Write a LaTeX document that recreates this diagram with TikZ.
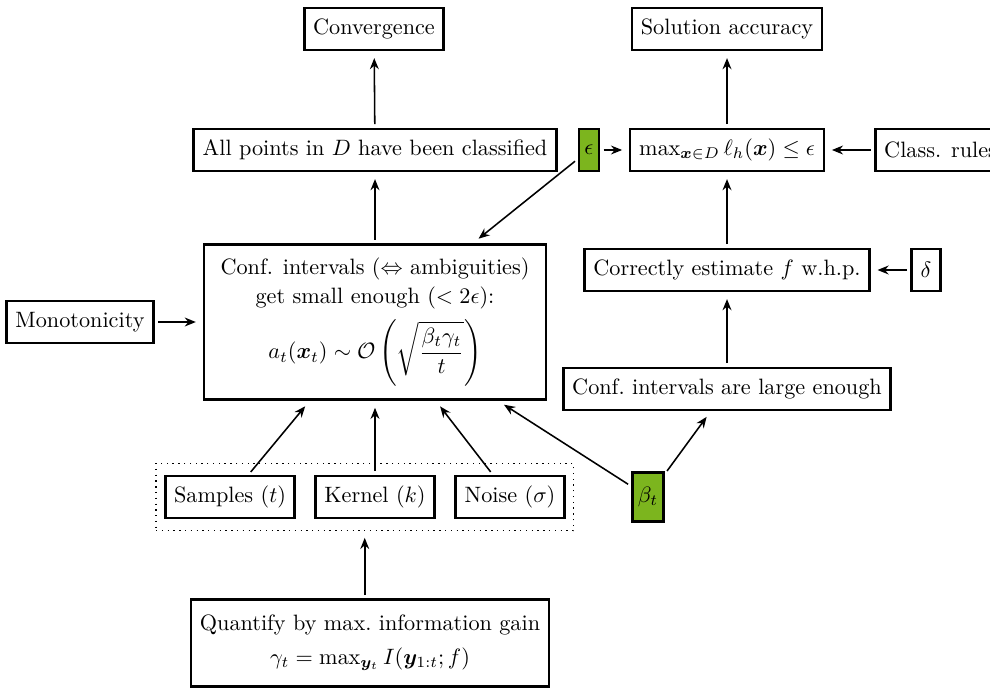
\documentclass[tikz,border=0pt]{standalone}
\usepackage{amsmath}
\usepackage{amssymb}
\usepackage{bm}
\usetikzlibrary{arrows.meta,positioning,fit}
\definecolor{paramGreen}{RGB}{124, 181, 30}

\begin{document}
\begin{tikzpicture}[
        x=0.45pt, y=-0.45pt,
        block/.style={rectangle, draw, line width=1.2pt, minimum height=19pt, inner xsep=4pt, align=center},
        param/.style={block, fill=paramGreen, inner xsep=2.5pt},
        arrow/.style={-{Stealth[length=5pt, width=4pt]}, line width=0.7pt, shorten >=3pt, shorten <=1.5pt}
    ]
        \useasboundingbox (0,0) rectangle (990,688);

        % Goals
        \node[block] (conv) at (374,29) {Convergence};
        \node[block] (accuracy) at (727,29) {Solution accuracy};

        % Conditions
        \node[block] (classified) at (375,150) {All points in $D$ have been classified};
        \node[param] (eps) at (589,150) {$\epsilon$};
        \node[block] (maxloss) at (727,150) {$\max_{\bm{x}\in D}\ell_h(\bm{x})\le\epsilon$};
        \node[block, anchor=west] (rules) at (874,150) {Class. rules};
        \node[block] (estimate) at (727,270) {Correctly estimate $f$ w.h.p.};
        \node[block] (delta) at (926,270) {$\delta$};

        % Confidence intervals
        \node[block, inner xsep=7.5pt, inner ysep=6pt] (conf) at (375,322) {Conf. intervals ($\Leftrightarrow$ ambiguities)\\[1pt] get small enough ($<2\epsilon$):\\[4pt] $\displaystyle a_t(\bm{x}_t)\sim\mathcal{O}\left(\sqrt{\frac{\beta_t\gamma_t}{t}}\right)$};
        \node[block] (monotone) at (80,322) {Monotonicity};
        \node[block] (large) at (727,389) {Conf.\ intervals are large enough};

        % Hyperparameters
        \node[block] (samples) at (230,497) {Samples ($t$)};
        \node[block] (kernel) at (375,497) {Kernel ($k$)};
        \node[block] (noise) at (510,497) {Noise ($\sigma$)};
        \node[param, minimum height=22pt] (beta) at (648,497) {$\beta_t$};
        \node[draw, dotted, line width=0.6pt, fit=(samples)(noise), inner xsep=3.5pt, inner ysep=5pt] (hyper) {};

        % Information gain
        \node[block, inner ysep=7pt] (infogain) at (370,643) {Quantify by max.\ information gain\\[3pt] $\gamma_t=\max_{\bm{y}_t} I(\bm{y}_{1:t};f)$};

        % Arrows
        \draw[arrow] (classified) -- (conv);
        \draw[arrow] (maxloss) -- (accuracy);
        \draw[arrow] (eps) -- (maxloss);
        \draw[arrow] (rules) -- (maxloss);
        \draw[arrow] (estimate) -- (maxloss);
        \draw[arrow] (delta) -- (estimate);
        \draw[arrow] (large) -- (estimate);
        \draw[arrow] (beta) -- (large);
        \draw[arrow] (beta) -- (conf);
        \draw[arrow] (eps) -- (conf);
        \draw[arrow] (conf) -- (classified);
        \draw[arrow] (monotone) -- (conf);
        \foreach \n in {samples,kernel,noise}
            \draw[arrow] (\n) -- (conf);
        \draw[arrow] (hyper.south |- infogain.north) -- (hyper);

    \end{tikzpicture}
\end{document}
